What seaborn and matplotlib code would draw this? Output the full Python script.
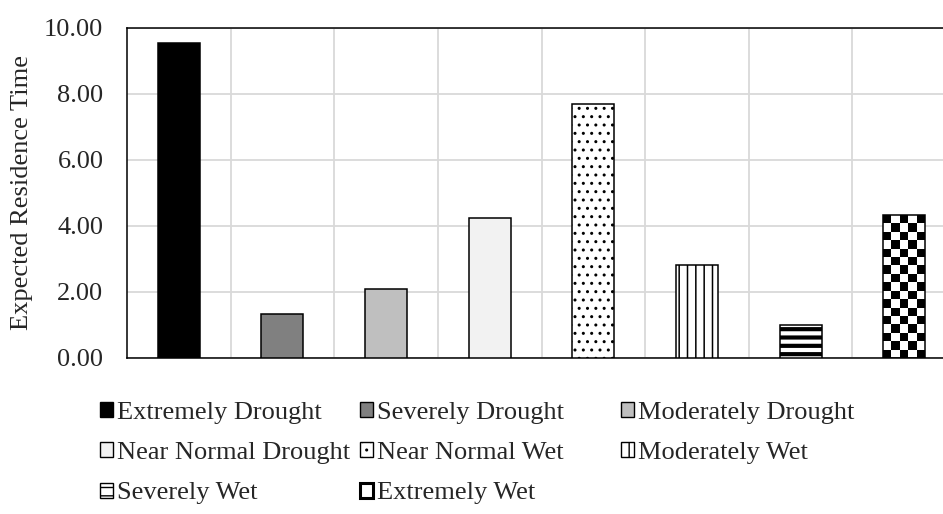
import numpy as np
import pandas as pd
import matplotlib
matplotlib.use("Agg")
import matplotlib.pyplot as plt
from matplotlib.patches import Patch
import seaborn as sns

# Drought / wetness classes and their expected residence time
categories = ["Extremely Drought", "Severely Drought", "Moderately Drought",
              "Near Normal Drought", "Near Normal Wet", "Moderately Wet",
              "Severely Wet", "Extremely Wet"]
residence_time = [9.54, 1.33, 2.10, 4.25, 7.71, 2.81, 1.00, 4.33]
y_ticks = [0, 2, 4, 6, 8, 10]

# Fill styles per class
face_colors = ["#000000", "#808080", "#BFBFBF", "#F2F2F2",
               "#FFFFFF", "#FFFFFF", "#FFFFFF", "#FFFFFF"]
hatches = [None, None, None, None, "..", "||", "--", None]
hatch_lw = [1.0, 1.0, 1.0, 1.0, 1.0, 1.1, 3.0, 1.0]
checker_index = 7

sns.set_style("white")
plt.rcParams["font.family"] = ["Liberation Serif", "DejaVu Serif"]
plt.rcParams["font.size"] = 19

df = pd.DataFrame({"category": categories, "value": residence_time})

fig = plt.figure(figsize=(9.43, 5.14), dpi=100)
W, H = 943, 514
ax = fig.add_axes([127 / W, 1 - 358 / H, 829 / W, 330 / H])

sns.barplot(data=df, x="category", y="value", hue="category",
            order=categories, hue_order=categories,
            palette=dict(zip(categories, face_colors)), saturation=1,
            dodge=False, legend=False, width=0.405,
            edgecolor="black", linewidth=1.1, ax=ax)

ax.set_xlim(-0.5, len(categories) - 0.5)
ax.set_ylim(0, 10)

bars = list(ax.patches)
for bar, h, lw in zip(bars, hatches, hatch_lw):
    bar.set_zorder(3)
    if h:
        bar.set_hatch(h)
        if hasattr(bar, "set_hatch_linewidth"):
            bar.set_hatch_linewidth(lw)

# Checkerboard texture for the last class, clipped to its bar
cb = bars[checker_index]
x0, y0 = cb.get_x(), cb.get_y()
bw, bh = cb.get_width(), cb.get_height()
p0 = ax.transData.transform((x0, y0))
p1 = ax.transData.transform((x0 + bw, y0 + bh))
nx = 5
sq = (p1[0] - p0[0]) / nx
ny = max(1, int(round((p1[1] - p0[1]) / sq)))
board = np.add.outer(np.arange(ny), np.arange(nx)) % 2
cb.set_facecolor("none")
img = ax.imshow(board, cmap="gray", vmin=0, vmax=1, interpolation="nearest",
                extent=(x0, x0 + bw, y0 + ny * sq * bh / (p1[1] - p0[1]), y0),
                origin="upper", aspect="auto", zorder=2)
img.set_clip_path(cb)
ax.set_xlim(-0.5, len(categories) - 0.5)
ax.set_ylim(0, 10)

# Grid and axes styling
ax.set_axisbelow(True)
ax.set_xticks([])
ax.set_xticks(np.arange(len(categories) - 1) + 0.5, minor=True)
ax.xaxis.grid(True, which="minor", color="#D9D9D9", linewidth=1.3)
ax.yaxis.grid(True, color="#D9D9D9", linewidth=1.3)
ax.tick_params(axis="x", which="both", length=0)
ax.set_xlabel("")
ax.set_yticks(y_ticks)
ax.set_yticklabels([f"{v:.2f}" for v in y_ticks])
ax.tick_params(axis="y", length=0, pad=17)
ax.set_ylabel("Expected Residence Time", labelpad=8)
for s in ax.spines.values():
    s.set_visible(True)
    s.set_color("black")
    s.set_linewidth(1.1)


def handle_for(i):
    if i == checker_index:
        return Patch(facecolor="white", edgecolor="black", linewidth=2.2)
    return Patch(facecolor=face_colors[i], edgecolor="black", linewidth=1.0,
                 hatch=hatches[i])


columns = [[0, 3, 6], [1, 4, 7], [2, 5]]
col_x = [100, 360, 621]
for idx, cx in zip(columns, col_x):
    fig.legend([handle_for(i) for i in idx], [categories[i] for i in idx],
               loc="upper left", bbox_to_anchor=(cx / W, 1 - 402 / H),
               frameon=False, borderpad=0, borderaxespad=0,
               handlelength=0.5, handleheight=0.5, handletextpad=0.15,
               labelspacing=0.69, fontsize=19)

fig.savefig("out.png", dpi=100)
